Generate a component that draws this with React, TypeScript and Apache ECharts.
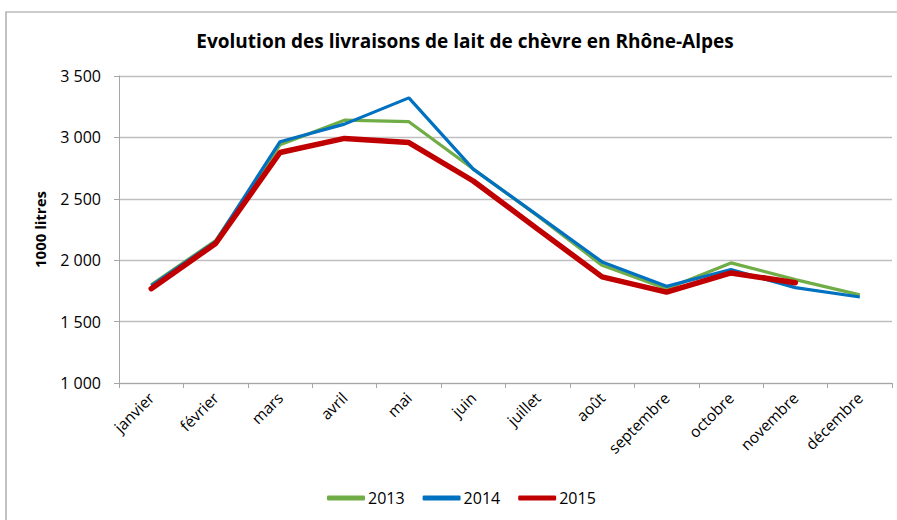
import React, { useEffect, useRef } from "react";
import * as echarts from "echarts";

const months = ["janvier", "février", "mars", "avril", "mai", "juin", "juillet", "août", "septembre", "octobre", "novembre", "décembre"];
const values2013 = [1800, 2160, 2940, 3140, 3128, 2742, 2360, 1958, 1768, 1978, 1842, 1718];
const values2014 = [1792, 2152, 2965, 3108, 3322, 2742, 2365, 1986, 1787, 1924, 1777, 1700];
const values2015 = [1768, 2136, 2877, 2992, 2958, 2645, 2253, 1864, 1740, 1896, 1817];
const yTicks = { min: 1000, max: 3500, interval: 500 };

const FONT = "'Open Sans', 'Noto Sans', sans-serif";

function fmt(v: number): string {
  const s = String(Math.round(v));
  return s.replace(/\B(?=(\d{3})+(?!\d))/g, " ");
}

export default function App() {
  const ref = useRef<HTMLDivElement>(null);
  useEffect(() => {
    if (!ref.current) return;
    const chart = echarts.init(ref.current, null, { renderer: "svg" });
    chart.setOption({
      animation: false,
      backgroundColor: "#ffffff",
      textStyle: { fontFamily: FONT },
      title: {
        text: "Evolution des livraisons de lait de chèvre en Rhône-Alpes",
        left: 460,
        top: 26,
        textAlign: "center",
        textStyle: { fontFamily: FONT, fontSize: 19, fontWeight: "bold", color: "#000" },
      },
      graphic: [
        {
          type: "rect",
          shape: { x: 6, y: 12, width: 900, height: 520 },
          style: { fill: "none", stroke: "#9a9a9a", lineWidth: 1.2 },
          silent: true,
        },
      ],
      legend: {
        bottom: 9,
        left: 322,
        itemWidth: 38,
        itemHeight: 5,
        itemGap: 18,
        icon: "roundRect",
        textStyle: { fontFamily: FONT, fontSize: 16, color: "#000", padding: [0, 0, 0, -2] },
        data: ["2013", "2014", "2015"],
      },
      grid: { left: 119, right: 5, top: 76, bottom: 137, containLabel: false },
      xAxis: {
        type: "category",
        data: months,
        boundaryGap: true,
        axisLine: { lineStyle: { color: "#a6a6a6", width: 1 } },
        axisTick: { show: true, alignWithLabel: false, length: 5, lineStyle: { color: "#a6a6a6" } },
        axisLabel: { rotate: 45, margin: 12, fontSize: 15.5, color: "#000", fontFamily: FONT, interval: 0 },
      },
      yAxis: {
        type: "value",
        min: yTicks.min,
        max: yTicks.max,
        interval: yTicks.interval,
        name: "1000 litres",
        nameLocation: "middle",
        nameGap: 72,
        nameTextStyle: { fontFamily: FONT, fontSize: 15, fontWeight: "bold", color: "#000" },
        axisLine: { show: true, lineStyle: { color: "#a6a6a6", width: 1 } },
        axisTick: { show: true, length: 5, lineStyle: { color: "#a6a6a6" } },
        axisLabel: { margin: 18, fontSize: 16, color: "#000", fontFamily: FONT, formatter: (v: number) => fmt(v) },
        splitLine: { show: true, lineStyle: { color: "#bfbfbf", width: 1.3 } },
      },
      series: [
        {
          name: "2013",
          type: "line",
          data: values2013,
          symbol: "none",
          color: "#70ad47",
          lineStyle: { width: 3.2, color: "#70ad47" },
        },
        {
          name: "2014",
          type: "line",
          data: values2014,
          symbol: "none",
          color: "#0070c0",
          lineStyle: { width: 3.2, color: "#0070c0" },
        },
        {
          name: "2015",
          type: "line",
          data: values2015,
          symbol: "none",
          color: "#c00000",
          lineStyle: { width: 5.5, color: "#c00000", cap: "round" },
        },
      ],
    });
    return () => chart.dispose();
  }, []);
  return <div ref={ref} style={{ position: "absolute", left: 0, top: 0, width: 897, height: 520 }} />;
}
